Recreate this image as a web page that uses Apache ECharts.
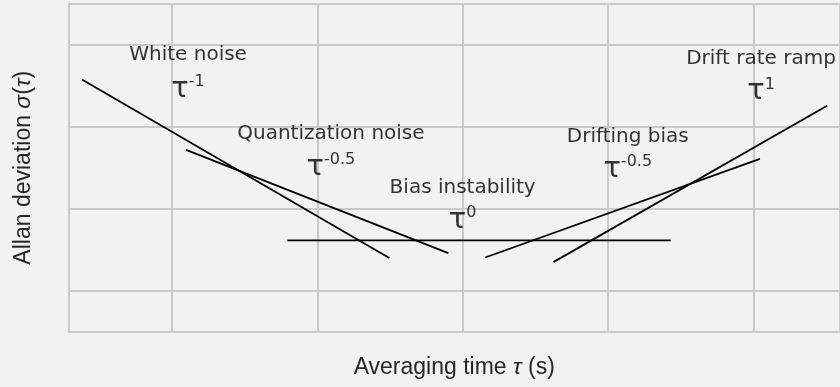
<!DOCTYPE html>
<html>
<head>
<meta charset="utf-8">
<script src="https://cdn.jsdelivr.net/npm/echarts@6/dist/echarts.min.js"></script>
<style>
  html, body { margin: 0; padding: 0; background: #f2f2f2; }
  #chart { width: 840px; height: 387px; }
</style>
</head>
<body>
<div id="chart"></div>
<script>
// Averaging time (s) and Allan deviation at the two ends of each asymptote
const whiteNoiseTau = [0.240, 31.3];
const whiteNoiseSigma = [3.75, 0.0251];
const quantizationTau = [1.25, 79.7];
const quantizationSigma = [0.521, 0.0289];
const biasTau = [6.22, 2700];
const biasSigma = [0.0412, 0.0412];
const driftingTau = [143, 11100];
const driftingSigma = [0.0255, 0.405];
const rampTau = [421, 32200];
const rampSigma = [0.0224, 1.80];

// Annotation text: name and slope exponent of each noise term
const noiseNames = ['White noise', 'Quantization noise', 'Bias instability', 'Drifting bias', 'Drift rate ramp'];
const slopeExponents = ['-1', '-0.5', '0', '-0.5', '1'];
// where each annotation sits (tau, sigma of name, sigma of slope)
const labelTau = [1.29, 12.4, 100, 1368, 11300];
const nameSigma = [7.53, 0.813, 0.182, 0.746, 6.73];
const slopeSigma = [2.81, 0.320, 0.0724, 0.302, 2.65];

const xMin = 0.194, xMax = 39500;
const yMin = 0.00316, yMax = 31.6;

const gridColor = '#cacaca';
const sansMath = '"DejaVu Sans", sans-serif';
const sansTitle = '"Liberation Sans", Arial, sans-serif';

function pairs(xs, ys) { return xs.map((x, i) => [x, ys[i]]); }

function lineSeries(xs, ys) {
  return {
    type: 'line',
    data: pairs(xs, ys),
    symbol: 'none',
    silent: true,
    lineStyle: { color: '#000', width: 1.8 },
    z: 3
  };
}

const nameData = noiseNames.map((n, i) => ({ value: [labelTau[i], nameSigma[i]], name: n }));
const slopeData = slopeExponents.map((e, i) => ({ value: [labelTau[i], slopeSigma[i]], name: e }));

const titleStyle = {
  fontFamily: sansTitle, fontSize: 23, color: '#262626',
  rich: { i: { fontFamily: sansTitle, fontSize: 23, fontStyle: 'italic', color: '#262626' } }
};

const plainText = { textBorderWidth: 0, textBorderColor: 'transparent', textShadowBlur: 0 };

const chart = echarts.init(document.getElementById('chart'), null, { renderer: 'canvas' });
chart.setOption({
  backgroundColor: '#f2f2f2',
  animation: false,
  grid: { left: 68.5, top: 3.5, right: 0, bottom: 55, containLabel: false },
  xAxis: {
    type: 'log', logBase: 10, min: xMin, max: xMax,
    name: 'Averaging time {i|τ} (s)',
    nameLocation: 'middle', nameGap: 24,
    nameTextStyle: titleStyle,
    axisLine: { show: true, lineStyle: { color: gridColor, width: 2 } },
    axisTick: { show: false },
    axisLabel: { show: false },
    splitLine: { show: true, lineStyle: { color: gridColor, width: 2 } },
    minorSplitLine: { show: false }
  },
  yAxis: {
    type: 'log', logBase: 10, min: yMin, max: yMax,
    name: 'Allan deviation {i|σ}({i|τ})',
    nameLocation: 'middle', nameGap: 33,
    nameTextStyle: titleStyle,
    axisLine: { show: true, lineStyle: { color: gridColor, width: 2 } },
    axisTick: { show: false },
    axisLabel: { show: false },
    splitLine: { show: true, lineStyle: { color: gridColor, width: 2 } },
    minorSplitLine: { show: false }
  },
  series: [
    lineSeries(whiteNoiseTau, whiteNoiseSigma),
    lineSeries(quantizationTau, quantizationSigma),
    lineSeries(biasTau, biasSigma),
    lineSeries(driftingTau, driftingSigma),
    lineSeries(rampTau, rampSigma),
    {
      type: 'scatter', data: nameData, symbolSize: 0, silent: true, z: 4,
      itemStyle: { color: '#000' },
      label: Object.assign({
        show: true, position: 'inside', formatter: p => p.name,
        fontFamily: sansMath, fontSize: 20, color: '#000'
      }, plainText)
    },
    {
      type: 'scatter', data: slopeData, symbolSize: 0, silent: true, z: 4,
      itemStyle: { color: '#000' },
      label: Object.assign({
        show: true, position: 'inside',
        formatter: p => '{t|τ}{s|' + p.name + '}',
        rich: {
          t: Object.assign({ fontFamily: sansMath, fontSize: 29, color: '#000' }, plainText),
          s: Object.assign({ fontFamily: sansMath, fontSize: 16, color: '#000', padding: [0, 0, 15, 0] }, plainText)
        }
      }, plainText)
    }
  ]
});
</script>
</body>
</html>
